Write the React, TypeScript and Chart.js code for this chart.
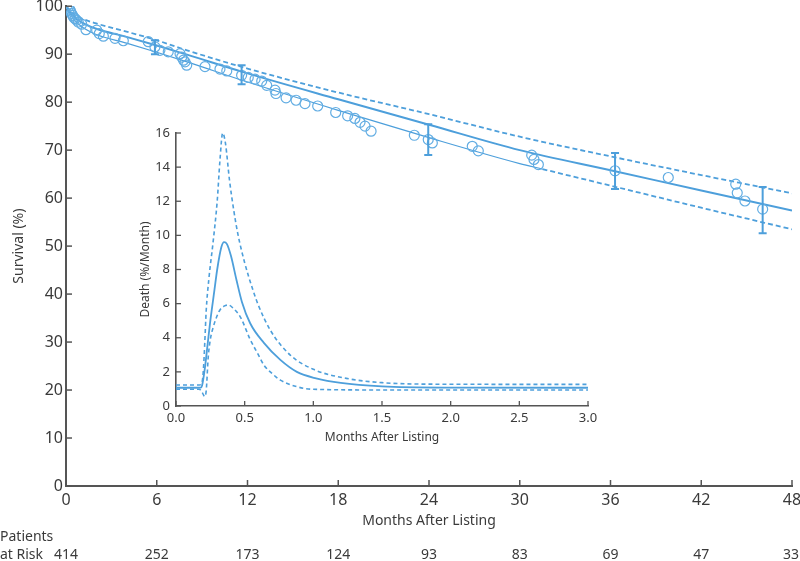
import React, { useEffect, useRef } from "react";
import { Chart, registerables } from "chart.js";

Chart.register(...registerables);

// ---------- Main survival chart data ----------
const kmMonths = [
  0.07, 0.15, 0.23, 0.3, 0.36, 0.43, 0.5, 0.6, 0.7, 0.81, 1.04, 1.32, 2.03, 2.2, 2.47, 3.24, 3.79,
  5.44, 5.88, 6.21, 6.76, 7.54, 7.65, 7.77, 7.87, 7.98, 9.19, 10.18, 10.63, 11.61, 12.05, 12.5,
  12.94, 13.27, 13.82, 13.88, 14.55, 15.21, 15.8, 16.64, 17.83, 18.62, 19.1, 19.44, 19.77, 20.17,
  23.03, 23.95, 24.22, 26.86, 27.26, 30.79, 30.94, 31.23, 36.3, 39.82, 44.28, 44.38, 44.89, 46.06,
];
const kmSurvival = [
  100, 99.8, 99.4, 99.0, 98.5, 98.1, 97.7, 97.4, 97.1, 96.7, 96.25, 95.1, 95.0, 94.3, 93.75, 93.3, 92.8,
  92.6, 91.5, 90.8, 90.5, 90.1, 89.4, 88.75, 88.4, 87.7, 87.4, 86.9, 86.5, 85.6, 85.15, 84.8,
  84.4, 83.5, 82.5, 81.8, 80.9, 80.4, 79.7, 79.2, 77.85, 77.15, 76.6, 75.8, 75.0, 73.95,
  73.1, 72.2, 71.5, 70.8, 69.85, 68.96, 68.06, 67.0, 65.7, 64.3, 62.9, 61.1, 59.4, 57.7,
];

const fitMonths = [0, 0.5, 1, 2, 4, 6, 8, 12, 18, 24, 30, 36, 42, 48];
const fitSurvival = [100, 97.9, 96.7, 95.3, 93.6, 91.8, 89.9, 86.0, 80.6, 75.3, 70.0, 65.8, 61.6, 57.4];
const fitUpper = [100, 98.4, 97.5, 96.4, 94.7, 92.9, 90.8, 87.0, 82.0, 77.5, 72.8, 68.7, 64.8, 61.0];
const lowerMonths = [0, 0.5, 1, 2, 4, 6, 8, 12, 18, 24, 30, 31.5, 36, 42, 48];
const fitLower = [100, 97.3, 95.8, 94.1, 92.3, 90.4, 88.4, 84.2, 78.3, 72.6, 67.2, 66.05, 62.6, 58.0, 53.5];

const errMonths = [5.88, 11.61, 23.95, 36.3, 46.06];
const errLow = [90.0, 83.75, 69.0, 61.9, 52.7];
const errHigh = [92.9, 87.7, 75.4, 69.4, 62.3];

const xTicks = [0, 6, 12, 18, 24, 30, 36, 42, 48];
const riskCounts = [414, 252, 173, 124, 93, 83, 69, 47, 33];

// ---------- Inset hazard chart data ----------
const hzMonths = [0, 0.1, 0.18, 0.19, 0.21, 0.23, 0.25, 0.28, 0.3, 0.33, 0.35, 0.37, 0.4, 0.44, 0.48, 0.54, 0.64, 0.76, 0.88, 1.02, 1.2, 1.5, 2.0, 3.0];
const hzHazard = [1.07, 1.07, 1.08, 1.2, 2.2, 3.6, 5.0, 6.8, 8.0, 9.3, 9.6, 9.5, 8.8, 7.4, 6.1, 4.85, 3.7, 2.7, 2.0, 1.62, 1.35, 1.15, 1.08, 1.07];
const hzUpMonths = [0, 0.17, 0.19, 0.2, 0.21, 0.22, 0.24, 0.27, 0.3, 0.32, 0.34, 0.36, 0.39, 0.42, 0.45, 0.5, 0.56, 0.6, 0.69, 0.83, 1.0, 1.24, 1.5, 1.85, 2.5, 3.0];
const hzUpper = [1.23, 1.23, 1.4, 2.2, 3.8, 5.6, 7.5, 9.6, 12.0, 14.4, 16.0, 15.4, 13.2, 11.5, 10.1, 8.4, 6.8, 5.9, 4.4, 3.0, 2.15, 1.62, 1.37, 1.28, 1.27, 1.27];
const hzLoMonths = [0, 0.17, 0.19, 0.21, 0.22, 0.235, 0.25, 0.272, 0.3, 0.32, 0.35, 0.38, 0.42, 0.47, 0.54, 0.6, 0.64, 0.7, 0.76, 0.88, 1.0, 1.5, 3.0];
const hzLower = [0.98, 0.98, 0.8, 0.55, 0.9, 2.9, 3.9, 4.65, 5.3, 5.63, 5.85, 5.92, 5.7, 5.2, 3.9, 3.0, 2.4, 1.9, 1.52, 1.13, 0.98, 0.94, 0.94];

const BLUE = "#4d9fdb";
const CIRCLE = "#62ade3";
const AXIS = "#555555";
const TEXT = "#3a3a3a";
const FONT = "'Noto Sans', 'Open Sans', sans-serif";

const pts = (xs: number[], ys: number[]) => xs.map((x, i) => ({ x, y: ys[i] }));

function drawInwardTicks(chart: any, len: number, width: number) {
  const { ctx, scales, chartArea } = chart;
  const x = scales.x;
  const y = scales.y;
  ctx.save();
  ctx.strokeStyle = AXIS;
  ctx.lineWidth = width;
  x.ticks.forEach((_: any, i: number) => {
    const px = x.getPixelForTick(i);
    ctx.beginPath();
    ctx.moveTo(px, chartArea.bottom);
    ctx.lineTo(px, chartArea.bottom - len);
    ctx.stroke();
  });
  y.ticks.forEach((_: any, i: number) => {
    const py = y.getPixelForTick(i);
    ctx.beginPath();
    ctx.moveTo(chartArea.left, py);
    ctx.lineTo(chartArea.left + len, py);
    ctx.stroke();
  });
  ctx.restore();
}

const mainDecor = {
  id: "mainDecor",
  afterDraw(chart: any) {
    const { ctx, scales, chartArea } = chart;
    const x = scales.x;
    const y = scales.y;
    // error bars
    ctx.save();
    ctx.strokeStyle = BLUE;
    ctx.lineWidth = 2;
    errMonths.forEach((m, i) => {
      const px = x.getPixelForValue(m);
      const y1 = y.getPixelForValue(errLow[i]);
      const y2 = y.getPixelForValue(errHigh[i]);
      ctx.beginPath();
      ctx.moveTo(px, y1);
      ctx.lineTo(px, y2);
      ctx.moveTo(px - 4, y1);
      ctx.lineTo(px + 4, y1);
      ctx.moveTo(px - 4, y2);
      ctx.lineTo(px + 4, y2);
      ctx.stroke();
    });
    ctx.restore();

    drawInwardTicks(chart, 6, 1.5);

    ctx.save();
    ctx.fillStyle = TEXT;
    ctx.textBaseline = "middle";
    ctx.font = `14px ${FONT}`;
    ctx.textAlign = "center";
    ctx.fillText("Months After Listing", (chartArea.left + chartArea.right) / 2, 521);
    ctx.save();
    ctx.translate(19, (chartArea.top + chartArea.bottom) / 2);
    ctx.rotate(-Math.PI / 2);
    ctx.font = `14px ${FONT}`;
    ctx.fillText("Survival (%)", 0, 0);
    ctx.restore();

    ctx.font = `14px ${FONT}`;
    ctx.textAlign = "left";
    ctx.fillText("Patients", 0, 537);
    ctx.fillText("at Risk", 0, 555);
    ctx.textAlign = "center";
    xTicks.forEach((m, i) => {
      const px = x.getPixelForValue(m);
      let tx = px;
      if (i === xTicks.length - 1) tx = Math.min(px, 800 - 9);
      ctx.fillText(String(riskCounts[i]), tx, 555);
    });
    ctx.restore();
  },
};

const insetDecor = {
  id: "insetDecor",
  afterDraw(chart: any) {
    const { ctx, chartArea } = chart;
    drawInwardTicks(chart, 5, 1.3);
    ctx.save();
    ctx.fillStyle = TEXT;
    ctx.textBaseline = "middle";
    ctx.textAlign = "center";
    ctx.font = `12px ${FONT}`;
    ctx.fillText("Months After Listing", (chartArea.left + chartArea.right) / 2, 318);
    ctx.translate(26, (chartArea.top + chartArea.bottom) / 2);
    ctx.rotate(-Math.PI / 2);
    ctx.fillText("Death (%/Month)", 0, 0);
    ctx.restore();
  },
};

const noPadX = (h: number) => (s: any) => {
  s.height = h;
  s.paddingLeft = 0;
  s.paddingRight = 0;
};
const noPadY = (w: number) => (s: any) => {
  s.width = w;
  s.paddingTop = 0;
  s.paddingBottom = 0;
};

export default function App() {
  const mainRef = useRef<HTMLCanvasElement | null>(null);
  const insetRef = useRef<HTMLCanvasElement | null>(null);

  useEffect(() => {
    document.body.style.margin = "0";
    const main = new Chart(mainRef.current as HTMLCanvasElement, {
      type: "scatter",
      data: {
        datasets: [
          {
            data: pts(kmMonths, kmSurvival),
            showLine: false,
            pointRadius: 5,
            pointBorderWidth: 1.2,
            pointBorderColor: CIRCLE,
            pointBackgroundColor: "rgba(0,0,0,0)",
          },
          {
            data: pts(fitMonths, fitUpper),
            showLine: true,
            borderColor: BLUE,
            borderWidth: 1.8,
            borderDash: [5, 3],
            pointRadius: 0,
            cubicInterpolationMode: "monotone",
          },
          {
            data: pts(fitMonths, fitSurvival),
            showLine: true,
            borderColor: BLUE,
            borderWidth: 2,
            pointRadius: 0,
            cubicInterpolationMode: "monotone",
          },
          {
            data: pts(lowerMonths, fitLower),
            showLine: true,
            borderColor: BLUE,
            borderWidth: 1.2,
            pointRadius: 0,
            cubicInterpolationMode: "monotone",
            segment: {
              borderDash: (c: any) => (c.p0.parsed.x >= 31.5 ? [5, 3] : undefined),
              borderWidth: (c: any) => (c.p0.parsed.x >= 31.5 ? 1.8 : undefined),
            },
          },
        ] as any,
      },
      options: {
        animation: false,
        responsive: false,
        maintainAspectRatio: false,
        layout: { padding: { top: 6, right: 8, left: 0, bottom: 0 } },
        plugins: { legend: { display: false }, tooltip: { enabled: false } },
        scales: {
          x: {
            type: "linear",
            min: 0,
            max: 48,
            afterBuildTicks: (s: any) => {
              s.ticks = xTicks.map((v) => ({ value: v }));
            },
            afterFit: noPadX(75),
            grid: { display: false, drawTicks: false },
            border: { display: true, color: AXIS, width: 2 },
            ticks: { color: TEXT, font: { family: FONT, size: 16 }, padding: 5, maxRotation: 0 },
          },
          y: {
            min: 0,
            max: 100,
            afterFit: noPadY(66),
            grid: { display: false, drawTicks: false },
            border: { display: true, color: AXIS, width: 2 },
            ticks: { stepSize: 10, color: TEXT, font: { family: FONT, size: 16 }, padding: 3 },
          },
        },
      } as any,
      plugins: [mainDecor],
    });

    const inset = new Chart(insetRef.current as HTMLCanvasElement, {
      type: "scatter",
      data: {
        datasets: [
          {
            data: pts(hzUpMonths, hzUpper),
            showLine: true,
            borderColor: BLUE,
            borderWidth: 1.6,
            borderDash: [4, 3],
            pointRadius: 0,
            cubicInterpolationMode: "monotone",
          },
          {
            data: pts(hzMonths, hzHazard),
            showLine: true,
            borderColor: BLUE,
            borderWidth: 1.8,
            pointRadius: 0,
            cubicInterpolationMode: "monotone",
          },
          {
            data: pts(hzLoMonths, hzLower),
            showLine: true,
            borderColor: BLUE,
            borderWidth: 1.6,
            borderDash: [4, 3],
            pointRadius: 0,
            cubicInterpolationMode: "monotone",
          },
        ] as any,
      },
      options: {
        animation: false,
        responsive: false,
        maintainAspectRatio: false,
        layout: { padding: { top: 13, right: 12, left: 0, bottom: 0 } },
        plugins: { legend: { display: false }, tooltip: { enabled: false } },
        scales: {
          x: {
            type: "linear",
            min: 0,
            max: 3,
            afterFit: noPadX(44),
            grid: { display: false, drawTicks: false },
            border: { display: true, color: AXIS, width: 1.6 },
            ticks: {
              stepSize: 0.5,
              color: TEXT,
              font: { family: FONT, size: 13 },
              padding: 4,
              maxRotation: 0,
              callback: (v: any) => Number(v).toFixed(1),
            },
          },
          y: {
            min: 0,
            max: 16,
            afterFit: noPadY(56),
            grid: { display: false, drawTicks: false },
            border: { display: true, color: AXIS, width: 1.6 },
            ticks: { stepSize: 2, color: TEXT, font: { family: FONT, size: 13 }, padding: 6 },
          },
        },
      } as any,
      plugins: [insetDecor],
    });

    return () => {
      main.destroy();
      inset.destroy();
    };
  }, []);

  return (
    <div style={{ position: "relative", width: 800, height: 561, background: "#fff" }}>
      <canvas ref={mainRef} width={800} height={561} style={{ position: "absolute", left: 0, top: 0, width: 800, height: 561 }} />
      <canvas ref={insetRef} width={480} height={330} style={{ position: "absolute", left: 120, top: 120, width: 480, height: 330 }} />
    </div>
  );
}
